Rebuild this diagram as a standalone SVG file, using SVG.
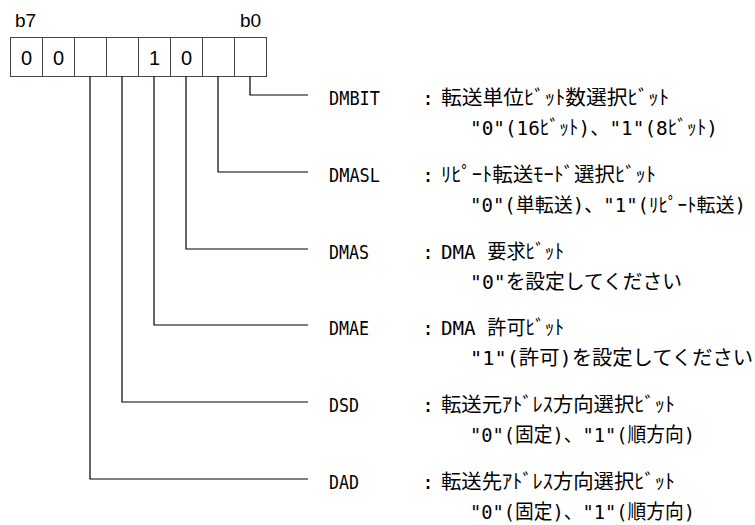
<svg xmlns="http://www.w3.org/2000/svg" width="755" height="525" viewBox="0 0 755 525">
<style>
.cell{fill:#fff;stroke:#444;stroke-width:1}
.dig{font-family:"Liberation Sans",Arial,sans-serif;font-size:20px;fill:#000;text-anchor:middle}
.bit{font-family:"Liberation Sans",Arial,sans-serif;font-size:19px;fill:#000}
.conn{fill:none;stroke:#000;stroke-width:1.2}
.lbl{font-family:"DejaVu Sans Mono","Noto Sans CJK JP",monospace;font-size:20px;fill:#000}
.jp{font-family:"DejaVu Sans Mono","Noto Sans CJK JP",monospace;font-size:20px;fill:#000}
.jps{font-size:19.5px}
</style>
<rect width="755" height="525" fill="#fff"/>
<g id="register">
<text class="bit" x="15" y="27">b7</text>
<text class="bit" x="240" y="27">b0</text>
<rect class="cell" x="10.5" y="37.5" width="32" height="39"/>
<rect class="cell" x="42.5" y="37.5" width="32" height="39"/>
<rect class="cell" x="74.5" y="37.5" width="32" height="39"/>
<rect class="cell" x="106.5" y="37.5" width="32" height="39"/>
<rect class="cell" x="138.5" y="37.5" width="32" height="39"/>
<rect class="cell" x="170.5" y="37.5" width="32" height="39"/>
<rect class="cell" x="202.5" y="37.5" width="32" height="39"/>
<rect class="cell" x="234.5" y="37.5" width="32" height="39"/>
<text class="dig" x="26.5" y="65">0</text>
<text class="dig" x="58.5" y="65">0</text>
<text class="dig" x="154.5" y="65">1</text>
<text class="dig" x="186.5" y="65">0</text>
</g>
<g id="connectors">
<path class="conn" d="M250,76.5 V95 H308"/>
<path class="conn" d="M218,76.5 V172 H308"/>
<path class="conn" d="M186,76.5 V249 H308"/>
<path class="conn" d="M154,76.5 V325 H308"/>
<path class="conn" d="M122,76.5 V402 H308"/>
<path class="conn" d="M90,76.5 V479 H308"/>
</g>
<g id="DMBIT">
<text class="lbl" x="329" y="104.5" textLength="51" lengthAdjust="spacingAndGlyphs">DMBIT</text>
<text class="lbl" x="422" y="104.5">:</text>
<text class="jp" x="441" y="104.5" textLength="228" lengthAdjust="spacingAndGlyphs">転送単位ﾋﾞｯﾄ数選択ﾋﾞｯﾄ</text>
<text class="jp" x="470" y="134.5" textLength="248" lengthAdjust="spacingAndGlyphs">"0"(16ﾋﾞｯﾄ)、"1"(8ﾋﾞｯﾄ)</text>
</g>
<g id="DMASL">
<text class="lbl" x="329" y="181.5" textLength="51" lengthAdjust="spacingAndGlyphs">DMASL</text>
<text class="lbl" x="422" y="181.5">:</text>
<text class="jp" x="441" y="181.5" textLength="215" lengthAdjust="spacingAndGlyphs">ﾘﾋﾟｰﾄ転送ﾓｰﾄﾞ選択ﾋﾞｯﾄ</text>
<text class="jp jps" x="470" y="211.5" textLength="276" lengthAdjust="spacingAndGlyphs">"0"(単転送)、"1"(ﾘﾋﾟｰﾄ転送)</text>
</g>
<g id="DMAS">
<text class="lbl" x="329" y="258.5" textLength="40" lengthAdjust="spacingAndGlyphs">DMAS</text>
<text class="lbl" x="422" y="258.5">:</text>
<text class="jp" x="441" y="258.5" textLength="123" lengthAdjust="spacingAndGlyphs">DMA 要求ﾋﾞｯﾄ</text>
<text class="jp" x="470" y="288.5" textLength="212" lengthAdjust="spacingAndGlyphs">"0"を設定してください</text>
</g>
<g id="DMAE">
<text class="lbl" x="329" y="334.5" textLength="40" lengthAdjust="spacingAndGlyphs">DMAE</text>
<text class="lbl" x="422" y="334.5">:</text>
<text class="jp" x="441" y="334.5" textLength="123" lengthAdjust="spacingAndGlyphs">DMA 許可ﾋﾞｯﾄ</text>
<text class="jp" x="470" y="364.5" textLength="283" lengthAdjust="spacingAndGlyphs">"1"(許可)を設定してください</text>
</g>
<g id="DSD">
<text class="lbl" x="329" y="411.5" textLength="30" lengthAdjust="spacingAndGlyphs">DSD</text>
<text class="lbl" x="422" y="411.5">:</text>
<text class="jp" x="441" y="411.5" textLength="234" lengthAdjust="spacingAndGlyphs">転送元ｱﾄﾞﾚｽ方向選択ﾋﾞｯﾄ</text>
<text class="jp" x="470" y="441.5" textLength="225" lengthAdjust="spacingAndGlyphs">"0"(固定)、"1"(順方向)</text>
</g>
<g id="DAD">
<text class="lbl" x="329" y="488.5" textLength="30" lengthAdjust="spacingAndGlyphs">DAD</text>
<text class="lbl" x="422" y="488.5">:</text>
<text class="jp" x="441" y="488.5" textLength="234" lengthAdjust="spacingAndGlyphs">転送先ｱﾄﾞﾚｽ方向選択ﾋﾞｯﾄ</text>
<text class="jp" x="470" y="518.5" textLength="225" lengthAdjust="spacingAndGlyphs">"0"(固定)、"1"(順方向)</text>
</g>
</svg>
